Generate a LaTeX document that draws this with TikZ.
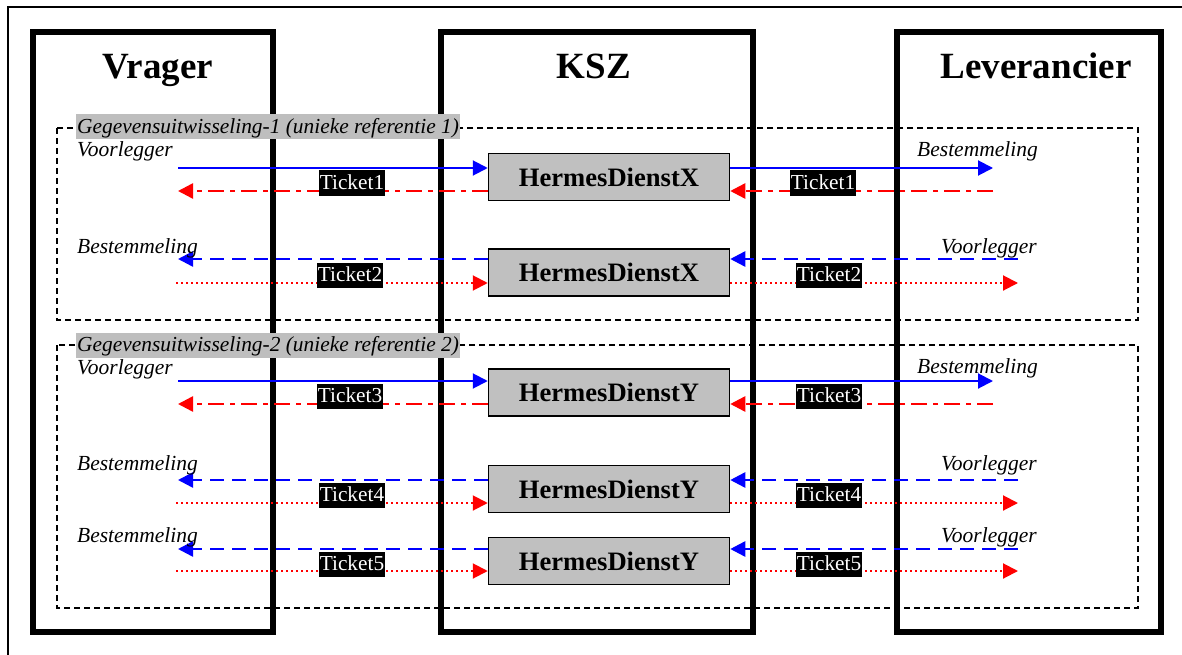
\documentclass[tikz,border=0pt]{standalone}
\usepackage{fontspec}
\setmainfont{Liberation Serif}
\usetikzlibrary{arrows.meta}
\definecolor{boxgray}{RGB}{192,192,192}
\definecolor{labelgray}{RGB}{190,190,190}
\definecolor{pureblue}{RGB}{0,0,255}
\definecolor{purered}{RGB}{255,0,0}
\begin{document}
\begin{tikzpicture}[x=1pt,y=-1pt,
  actor/.style={draw, line width=6pt},
  actortitle/.style={anchor=base, inner sep=0pt, font=\fontsize{37}{40}\selectfont\bfseries},
  groupbox/.style={draw, line width=1.5pt, dash pattern=on 6pt off 4pt},
  grouplabel/.style={anchor=west, fill=labelgray, inner xsep=1pt, inner ysep=0pt,
    text height=19pt, text depth=6pt, font=\fontsize{21.4}{24}\selectfont\itshape},
  service/.style={draw, line width=1.5pt, fill=boxgray, minimum width=241pt,
    minimum height=47pt, inner sep=0pt, font=\fontsize{26.6}{30}\selectfont\bfseries},
  rolelabel/.style={anchor=base west, inner sep=0pt, font=\fontsize{21.5}{24}\selectfont\itshape},
  ticket/.style={fill=black, text=white, inner xsep=1pt, inner ysep=0pt,
    text height=19pt, text depth=6pt, font=\fontsize{21.3}{24}\selectfont},
  tip/.style={-{Triangle[length=15pt,width=15pt]}},
  reqline/.style={tip, pureblue, line width=2pt},
  pushline/.style={tip, pureblue, line width=2.5pt, dash pattern=on 14pt off 8pt},
  ackline/.style={tip, purered, line width=2.5pt, dash pattern=on 16pt off 6pt on 5pt off 6pt},
  noteline/.style={tip, purered, line width=2pt, dash pattern=on 2pt off 3pt}
]
\useasboundingbox (0,0) rectangle (1182,655);

% page frame (left and top edges)
\draw[line width=1.5pt] (8,660) -- (8,7) -- (1190,7);

% the three parties
\draw[actor] (33,32) rectangle (273,632);
\draw[actor] (441,32) rectangle (753,632);
\draw[actor] (897,32) rectangle (1161,632);
\node[actortitle] (tVrager) at (158,79) {Vrager};
\node[actortitle] (tKSZ) at (594,79) {KSZ};
\node[actortitle] (tLev) at (1036,79) {Leverancier};

% exchange groups
\draw[groupbox] (57,128) rectangle (1138,320);
\draw[groupbox] (57,345) rectangle (1138,608);

% Hermes services
\node[service] (h1) at (609,177) {HermesDienstX};
\node[service] (h2) at (609,272.5) {HermesDienstX};
\node[service] (h3) at (609,392.5) {HermesDienstY};
\node[service] (h4) at (609,489) {HermesDienstY};
\node[service] (h5) at (609,561) {HermesDienstY};

% free ends of the message arrows
\coordinate (a1) at (178,168); \coordinate (b1) at (993,168);
\coordinate (c1) at (178,191); \coordinate (d1) at (993,191);
\coordinate (a2) at (178,259); \coordinate (b2) at (1018,259);
\coordinate (c2) at (176,283); \coordinate (d2) at (1018,283);
\coordinate (a3) at (178,381); \coordinate (b3) at (993,381);
\coordinate (c3) at (178,404); \coordinate (d3) at (993,404);
\coordinate (a4) at (178,480); \coordinate (b4) at (1018,480);
\coordinate (c4) at (176,503); \coordinate (d4) at (1018,503);
\coordinate (a5) at (178,549); \coordinate (b5) at (1018,549);
\coordinate (c5) at (176,571); \coordinate (d5) at (1018,571);

% request / answer pairs
\foreach \i in {1,3}{
  \draw[reqline] (a\i) -- (a\i -| h\i.west);
  \draw[reqline] (h\i.east |- b\i) -- (b\i);
  \draw[ackline] (d\i) -- (d\i -| h\i.east);
  \draw[ackline] (c\i -| h\i.west) -- (c\i);
}
% pushed messages with their tickets
\foreach \i in {2,4,5}{
  \draw[pushline] (b\i) -- (b\i -| h\i.east);
  \draw[pushline] (a\i -| h\i.west) -- (a\i);
  \draw[noteline] (c\i) -- (c\i -| h\i.west);
  \draw[noteline] (h\i.east |- d\i) -- (d\i);
}

% tickets
\node[ticket] (tk1l) at (352,183) {Ticket1};
\node[ticket] (tk1r) at (823,183) {Ticket1};
\node[ticket] (tk2l) at (350,275) {Ticket2};
\node[ticket] (tk2r) at (829,275) {Ticket2};
\node[ticket] (tk3l) at (350,396) {Ticket3};
\node[ticket] (tk3r) at (829,396) {Ticket3};
\node[ticket] (tk4l) at (352,495) {Ticket4};
\node[ticket] (tk4r) at (829,495) {Ticket4};
\node[ticket] (tk5l) at (352,564) {Ticket5};
\node[ticket] (tk5r) at (829,564) {Ticket5};

% group captions
\node[grouplabel] (g1) at (76,127) {Gegevensuitwisseling-1 (unieke referentie 1)};
\node[grouplabel] (g2) at (76,345) {Gegevensuitwisseling-2 (unieke referentie 2)};

% roles
\node[rolelabel] (r1l) at (77,157) {Voorlegger};
\node[rolelabel] (r1r) at (917,157) {Bestemmeling};
\node[rolelabel] (r2l) at (77,253) {Bestemmeling};
\node[rolelabel] (r2r) at (941,253) {Voorlegger};
\node[rolelabel] (r3l) at (77,374) {Voorlegger};
\node[rolelabel] (r3r) at (917,373) {Bestemmeling};
\node[rolelabel] (r4l) at (77,470) {Bestemmeling};
\node[rolelabel] (r4r) at (941,470) {Voorlegger};
\node[rolelabel] (r5l) at (77,542) {Bestemmeling};
\node[rolelabel] (r5r) at (941,542) {Voorlegger};
\end{tikzpicture}
\end{document}
